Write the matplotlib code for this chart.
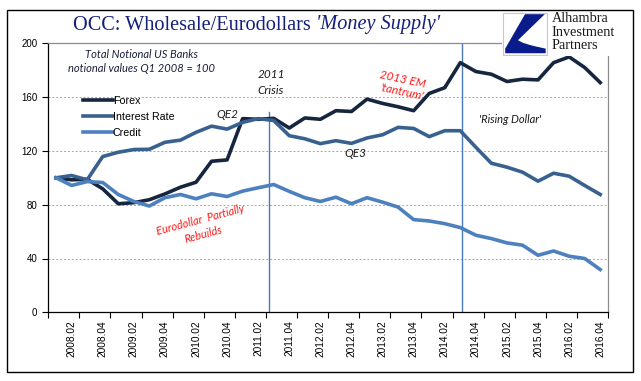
import matplotlib
matplotlib.use("Agg")
import matplotlib.pyplot as plt
from matplotlib.patches import Rectangle, Polygon
from matplotlib.text import Annotation

# ---------------- data ----------------
quarters = [f"{y}.0{q}" for y in range(2008, 2017) for q in (1, 2, 3, 4)]
forex = [100, 98.5, 98.9, 91.8, 80.7, 81.5, 83.7, 88, 93, 96.7, 112.3, 113.3,
         144, 143.5, 144.2, 137, 144.5, 143.5, 149.9, 149.3, 158.5, 155.3, 152.8, 149.9,
         162.7, 167, 185.6, 179, 177, 171.6, 173.3, 172.8, 185.6, 189.9, 182, 170.8]
interest = [100, 101.7, 98.5, 115.8, 119, 121, 121.2, 126.4, 128, 133.8, 138.4, 136.2,
            141.2, 144, 142.6, 131.3, 129, 125.4, 127.6, 125.6, 129.6, 132, 137.5, 136.7,
            130.6, 135, 135, 122.7, 110.8, 107.9, 104.2, 97.5, 103.4, 101.2, 94.3, 87.6]
credit = [100, 94.3, 97.2, 96.5, 87.6, 82.4, 79, 85.2, 87.6, 84.4, 88.1, 86.1,
          90.1, 92.6, 95, 89.9, 85.2, 82.4, 85.6, 80.7, 85.2, 81.9, 78.2, 68.9,
          67.9, 65.9, 63, 57.3, 54.8, 51.6, 49.9, 42.4, 45.6, 41.7, 40, 31.8]
series_names = ["Forex", "Interest Rate", "Credit"]
yticks = [0, 40, 80, 120, 160, 200]

colors = ["#16263F", "#38618F", "#4D80BF"]

W, H = 641, 381
fig = plt.figure(figsize=(W / 100, H / 100), dpi=100)

def fx(px):
    return px / W

def fy(py):
    return 1 - py / H

ax_l, ax_r, ax_t, ax_b = 48.3, 608, 43.3, 312.3
ax = fig.add_axes([fx(ax_l), fy(ax_b), fx(ax_r - ax_l), (ax_b - ax_t) / H])

x = list(range(len(quarters)))
for vals, name, c in zip([forex, interest, credit], series_names, colors):
    ax.plot(x, vals, color=c, lw=2.6, label=name, solid_joinstyle="round", zorder=3)

ax.set_xlim(-0.5, len(quarters) - 0.5)
ax.set_ylim(0, 200)

# grid
for v in yticks[1:-1]:
    ax.axhline(v, color="#A6A6A6", lw=0.7, ls=(0, (2, 2)), zorder=1)

# spines
for s in ["left", "bottom"]:
    ax.spines[s].set_color("black")
    ax.spines[s].set_linewidth(0.9)
for s in ["top", "right"]:
    ax.spines[s].set_color("#8C8C8C")
    ax.spines[s].set_linewidth(0.9)

tickfont = {"family": "Liberation Sans", "size": 7}
ax.set_yticks(yticks)
ax.set_yticklabels([str(v) for v in yticks], fontdict=tickfont)
ax.tick_params(axis="y", direction="out", length=4, width=0.8, pad=4, colors="black")

# x ticks: boundaries every 2 quarters, labels on Q2/Q4
ax.set_xticks([i - 0.5 for i in range(0, len(quarters) + 1, 2)])
ax.set_xticklabels([])
ax.set_xticks(list(range(1, len(quarters), 2)), minor=True)
ax.set_xticklabels([quarters[i] for i in range(1, len(quarters), 2)],
                   minor=True, rotation=90, fontdict={"family": "Liberation Sans", "size": 7.3})
ax.tick_params(axis="x", which="major", direction="out", length=4, width=0.8)
ax.tick_params(axis="x", which="minor", length=0, pad=6)

# vertical event lines
vcol = "#4A78B8"
ax.plot([13.7, 13.7], [0, 148.6], color=vcol, lw=1.0, zorder=2)
ax.plot([26.1, 26.1], [0, 200], color=vcol, lw=1.0, zorder=2)

# legend
leg = ax.legend(loc="upper left", bbox_to_anchor=(0.062, 0.805), frameon=False,
                prop={"family": "Liberation Sans", "size": 7.7}, handlelength=2.8,
                handletextpad=0.0, labelspacing=0.58, borderpad=0, borderaxespad=0)

# annotations
anfont = "Lato"
ax.text(5.5, 191.9, "Total Notional US Banks", ha="center", va="center",
        fontsize=8, style="italic", family=anfont, color="#1B1F3A")
ax.text(5.5, 181.2, "notional values Q1 2008 = 100", ha="center", va="center",
        fontsize=8, style="italic", family=anfont, color="#1B1F3A")
ax.text(13.82, 176.5, "2011", ha="center", va="center", fontsize=8.5,
        style="italic", family=anfont, color="#1A1A1A")
ax.text(13.82, 165.2, "Crisis", ha="center", va="center", fontsize=8.5,
        style="italic", family=anfont, color="#1A1A1A")
ax.text(11.0, 147.4, "QE2", ha="center", va="center", fontsize=8.5,
        style="italic", family=anfont, color="#1A1A1A")
ax.text(19.28, 118.2, "QE3", ha="center", va="center", fontsize=8.5,
        style="italic", family=anfont, color="#1A1A1A")
ax.text(22.3, 173.2, "2013 EM", ha="center", va="center", fontsize=8.5,
        style="italic", family=anfont, color="#FF1A1A", rotation=-12,
        rotation_mode="anchor")
ax.text(22.3, 163.8, "'tantrum'", ha="center", va="center", fontsize=8.5,
        style="italic", family=anfont, color="#FF1A1A", rotation=-12,
        rotation_mode="anchor")
ax.text(29.2, 143, "'Rising Dollar'", ha="center", va="center", fontsize=8,
        style="italic", family=anfont, color="#1A1A1A")
ax.text(9.26, 68.4, "Eurodollar  Partially", ha="center", va="center", fontsize=8,
        style="italic", family=anfont, color="#FF1A1A", rotation=15,
        rotation_mode="anchor")
ax.text(9.45, 58.0, "Rebuilds", ha="center", va="center", fontsize=8,
        style="italic", family=anfont, color="#FF1A1A", rotation=15,
        rotation_mode="anchor")

# title
tcol = "#14207A"
t1 = fig.text(fx(73), fy(25), "OCC: Wholesale/Eurodollars ", ha="left", va="center",
              fontsize=14.6, family="Liberation Serif", color=tcol)
fig.add_artist(Annotation("'Money Supply'", xy=(1, 0.5), xycoords=t1,
                          va="center", ha="left", fontsize=14.6, style="italic",
                          family="Liberation Serif", color=tcol))

# logo
lg = fig.add_axes([fx(502), fy(56), fx(125), 45 / H])
lg.set_xlim(0, 125)
lg.set_ylim(45, 0)
lg.set_xticks([])
lg.set_yticks([])
for s in lg.spines.values():
    s.set_visible(False)
lg.set_facecolor("white")
ix0, iy0, isz_w, isz_h = 1, 1.5, 44, 42
lg.add_patch(Rectangle((ix0, iy0), isz_w, isz_h, facecolor="white", edgecolor="#C8C8C8", lw=0.8))
poly_uv = [(0.50, 0.04), (0.95, 0.04), (0.34, 0.66), (0.45, 0.72), (0.60, 0.77),
           (0.75, 0.81), (0.88, 0.84), (0.97, 0.86), (0.97, 0.97), (0.05, 0.97), (0.05, 0.86)]
lg.add_patch(Polygon([(ix0 + u * isz_w, iy0 + v * isz_h) for u, v in poly_uv],
                     closed=True, facecolor="#0A1C8C", edgecolor="none"))
for txt, yy in [("Alhambra", 8), ("Investment", 21.3), ("Partners", 34.7)]:
    lg.text(49.7, yy, txt, ha="left", va="center", fontsize=10.3,
            family="Liberation Serif", color="#1A1A1A")

# outer frame
fig.add_artist(Rectangle((fx(7.3), fy(371.7)), fx(632.7 - 7.3), (371.7 - 10) / H,
                         transform=fig.transFigure, fill=False, edgecolor="black", lw=1.0))

fig.savefig("out.png", dpi=100)
